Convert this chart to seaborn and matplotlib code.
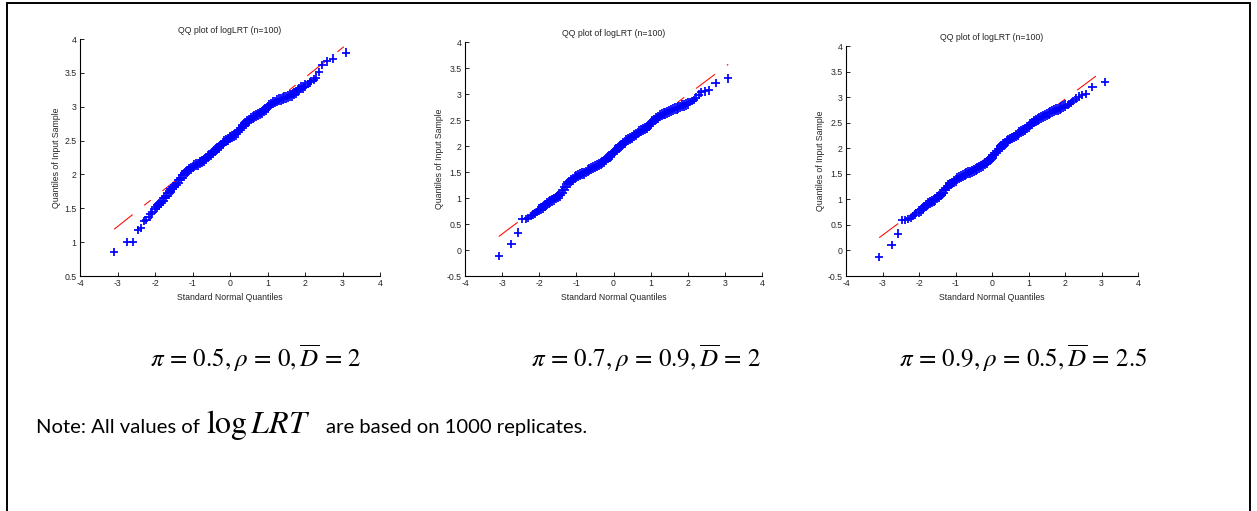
import matplotlib
matplotlib.use("Agg")
import matplotlib.pyplot as plt
import seaborn as sns
import numpy as np
import pandas as pd
from matplotlib.lines import Line2D

# ---------------- data ----------------
# theoretical standard normal quantiles (shared by all panels)
theo_q = [-3.09, -2.75, -2.58, -2.46, -2.37, -2.29, -2.23, -2.17, -2.12, -2.07,
          -2.00, -1.95, -1.90, -1.85, -1.80, -1.75, -1.70, -1.65, -1.60, -1.55,
          -1.50, -1.45, -1.40, -1.35, -1.30, -1.25, -1.20, -1.15, -1.10, -1.05,
          -1.00, -0.95, -0.90, -0.85, -0.80, -0.75, -0.70, -0.65, -0.60, -0.55,
          -0.50, -0.45, -0.40, -0.35, -0.30, -0.25, -0.20, -0.15, -0.10, -0.05,
          0.00, 0.05, 0.10, 0.15, 0.20, 0.25, 0.30, 0.35, 0.40, 0.45,
          0.50, 0.55, 0.60, 0.65, 0.70, 0.75, 0.80, 0.85, 0.90, 0.95,
          1.00, 1.05, 1.10, 1.15, 1.20, 1.25, 1.30, 1.35, 1.40, 1.45,
          1.50, 1.55, 1.60, 1.65, 1.70, 1.75, 1.80, 1.85, 1.90, 1.95,
          2.00, 2.07, 2.12, 2.17, 2.23, 2.29, 2.37, 2.46, 2.58, 2.75, 3.09]

# sample quantiles of logLRT, panel 1 (pi=0.5, rho=0, Dbar=2)
sample_q1 = [0.85, 1.00, 1.00, 1.18, 1.21, 1.31, 1.33, 1.37, 1.41, 1.45,
             1.49, 1.52, 1.55, 1.58, 1.61, 1.65, 1.68, 1.72, 1.75, 1.78,
             1.81, 1.85, 1.88, 1.92, 1.95, 1.99, 2.02, 2.05, 2.07, 2.09,
             2.11, 2.13, 2.14, 2.15, 2.17, 2.19, 2.21, 2.24, 2.26, 2.28,
             2.30, 2.33, 2.35, 2.38, 2.40, 2.43, 2.45, 2.48, 2.50, 2.52,
             2.54, 2.56, 2.58, 2.59, 2.62, 2.66, 2.69, 2.72, 2.75, 2.78,
             2.80, 2.82, 2.84, 2.86, 2.87, 2.89, 2.90, 2.92, 2.94, 2.96,
             2.99, 3.02, 3.04, 3.06, 3.07, 3.09, 3.10, 3.11, 3.12, 3.13,
             3.14, 3.15, 3.16, 3.17, 3.19, 3.21, 3.24, 3.26, 3.28, 3.29,
             3.31, 3.34, 3.36, 3.38, 3.40, 3.43, 3.51, 3.62, 3.67, 3.71, 3.80]

# panel 2 (pi=0.7, rho=0.9, Dbar=2)
sample_q2 = [-0.12, 0.11, 0.335, 0.59, 0.60, 0.62, 0.65, 0.68, 0.70, 0.73,
             0.77, 0.79, 0.82, 0.86, 0.89, 0.92, 0.94, 0.96, 0.98, 1.00,
             1.03, 1.05, 1.09, 1.15, 1.21, 1.26, 1.30, 1.33, 1.36, 1.39,
             1.41, 1.43, 1.45, 1.47, 1.48, 1.50, 1.52, 1.54, 1.56, 1.58,
             1.60, 1.62, 1.64, 1.66, 1.69, 1.71, 1.74, 1.77, 1.80, 1.84,
             1.88, 1.91, 1.94, 1.98, 2.01, 2.04, 2.07, 2.10, 2.12, 2.15,
             2.17, 2.20, 2.22, 2.25, 2.27, 2.29, 2.31, 2.33, 2.36, 2.39,
             2.43, 2.47, 2.50, 2.53, 2.55, 2.58, 2.60, 2.62, 2.63, 2.65,
             2.67, 2.69, 2.70, 2.72, 2.73, 2.74, 2.75, 2.77, 2.78, 2.80,
             2.82, 2.85, 2.87, 2.89, 2.93, 2.99, 3.03, 3.05, 3.07, 3.21, 3.30]

# panel 3 (pi=0.9, rho=0.5, Dbar=2.5)
sample_q3 = [-0.13, 0.10, 0.33, 0.59, 0.59, 0.61, 0.64, 0.67, 0.70, 0.73,
             0.76, 0.79, 0.82, 0.85, 0.88, 0.91, 0.93, 0.96, 0.98, 1.00,
             1.03, 1.06, 1.09, 1.13, 1.18, 1.23, 1.27, 1.30, 1.32, 1.35,
             1.37, 1.40, 1.42, 1.44, 1.46, 1.48, 1.50, 1.52, 1.53, 1.55,
             1.57, 1.59, 1.61, 1.63, 1.65, 1.67, 1.70, 1.72, 1.75, 1.78,
             1.82, 1.86, 1.90, 1.95, 1.99, 2.03, 2.07, 2.10, 2.13, 2.16,
             2.18, 2.20, 2.22, 2.25, 2.27, 2.30, 2.32, 2.35, 2.37, 2.40,
             2.43, 2.46, 2.49, 2.52, 2.55, 2.57, 2.59, 2.61, 2.62, 2.64,
             2.66, 2.68, 2.69, 2.71, 2.73, 2.75, 2.76, 2.78, 2.79, 2.81,
             2.83, 2.85, 2.87, 2.89, 2.92, 2.97, 3.01, 3.04, 3.06, 3.20, 3.29]

# reference line (through the quartiles, extended to the data range): y at x=-3.09 and x=3.09
ref_x = [-3.09, 3.09]
ref_y1 = [1.19, 3.91]
ref_y2 = [0.26, 3.57]
ref_y3 = [0.25, 3.54]

titles = ["QQ plot of logLRT (n=100)"] * 3
x_ticks = [-4, -3, -2, -1, 0, 1, 2, 3, 4]
y_ticks1 = [0.5, 1, 1.5, 2, 2.5, 3, 3.5, 4]
y_ticks23 = [-0.5, 0, 0.5, 1, 1.5, 2, 2.5, 3, 3.5, 4]
captions = [r"$\pi\,=\,0.5,\rho\,=\,0,\overline{D}\,=\,2$",
            r"$\pi\,=\,0.7,\rho\,=\,0.9,\overline{D}\,=\,2$",
            r"$\pi\,=\,0.9,\rho\,=\,0.5,\overline{D}\,=\,2.5$"]
note_a = "Note: All values of"
note_math = r"$\log LRT$"
note_b = "are based on 1000 replicates."

# ---------------- style ----------------
sns.set_theme(style="white")
plt.rcParams["font.family"] = ["Liberation Sans", "DejaVu Sans"]
plt.rcParams["axes.unicode_minus"] = False
plt.rcParams["lines.scale_dashes"] = False
plt.rcParams["mathtext.fontset"] = "stix"

W, H = 1257, 511
fig = plt.figure(figsize=(W / 100, H / 100), dpi=100)
fig.patch.set_facecolor("white")

def px_axes(left, top, right, bottom):
    return [left / W, 1 - bottom / H, (right - left) / W, (bottom - top) / H]

axes_px = [(80, 39, 380, 276), (465, 42, 762, 276), (846, 46, 1138, 276)]
samples = [sample_q1, sample_q2, sample_q3]
refs = [ref_y1, ref_y2, ref_y3]
ylims = [(0.5, 4), (-0.5, 4), (-0.5, 4)]
yticks_all = [y_ticks1, y_ticks23, y_ticks23]

txtcol = "#262626"
fs = 6.3
for i in range(3):
    ax = fig.add_axes(px_axes(*axes_px[i]))
    df = pd.DataFrame({"theo": theo_q, "samp": samples[i]})
    # dense central part of the sample drawn with slightly heavier crosses
    df["dense"] = np.where(np.abs(df["theo"]) <= 2.0, "core", "tail")
    rdf = pd.DataFrame({"x": ref_x, "y": refs[i]})
    sns.lineplot(data=rdf, x="x", y="y", ax=ax, color="#FF0000", linewidth=0.75,
                 estimator=None, sort=False, zorder=2)
    ax.lines[-1].set_dashes([17.0, 10.7, 6.0, 10.7])
    sns.scatterplot(data=df, x="theo", y="samp", ax=ax, marker="+", color="#0000FF",
                    size="dense", sizes={"core": 62, "tail": 36}, legend=False,
                    linewidth=1.25, zorder=3)
    ax.set_xlim(-4, 4)
    ax.set_ylim(*ylims[i])
    ax.set_xticks(x_ticks)
    ax.set_yticks(yticks_all[i])
    ax.set_xticklabels([f"{v:g}" for v in x_ticks])
    ax.set_yticklabels([f"{v:g}" for v in yticks_all[i]])
    ax.tick_params(direction="in", length=2.6, width=0.6, colors="black",
                   labelsize=fs, labelcolor=txtcol, pad=2.5,
                   bottom=True, left=True)
    sns.despine(ax=ax)
    for s in ("left", "bottom"):
        ax.spines[s].set_color("black")
        ax.spines[s].set_linewidth(0.8)
    ax.set_facecolor("white")
    ax.set_title(titles[i], fontsize=fs, color=txtcol, pad=4.5)
    ax.set_xlabel("Standard Normal Quantiles", fontsize=fs, color=txtcol, labelpad=3)
    ax.set_ylabel("Quantiles of Input Sample", fontsize=fs, color=txtcol, labelpad=2)

# captions under panels
cap_centers = [256, 646, 1023]
for c, t in zip(cap_centers, captions):
    fig.text(c / W, 1 - 367 / H, t, fontsize=18, ha="center", va="baseline",
             color="black")

# note line
fig.canvas.draw()
r = fig.canvas.get_renderer()
base = 1 - 433 / H
t1 = fig.text(36 / W, base, note_a, fontsize=14.6, family=["Lato", "DejaVu Sans"],
              va="baseline", color="black")
x1 = t1.get_window_extent(r).x1
t2 = fig.text((x1 + 6) / W, base, note_math, fontsize=23, va="baseline", color="black")
x2 = t2.get_window_extent(r).x1
t3 = fig.text((x2 + 16) / W, base, note_b, fontsize=14.6, family=["Lato", "DejaVu Sans"],
              va="baseline", color="black")

# slide border
for xs, ys in [((7 / W, 7 / W), (0, 1 - 3 / H)),
               ((7 / W, 1250 / W), (1 - 3 / H, 1 - 3 / H)),
               ((1250 / W, 1250 / W), (0, 1 - 3 / H))]:
    fig.add_artist(Line2D(xs, ys, color="black", linewidth=1.4,
                          transform=fig.transFigure))

fig.savefig("out.png", dpi=100, facecolor="white")
